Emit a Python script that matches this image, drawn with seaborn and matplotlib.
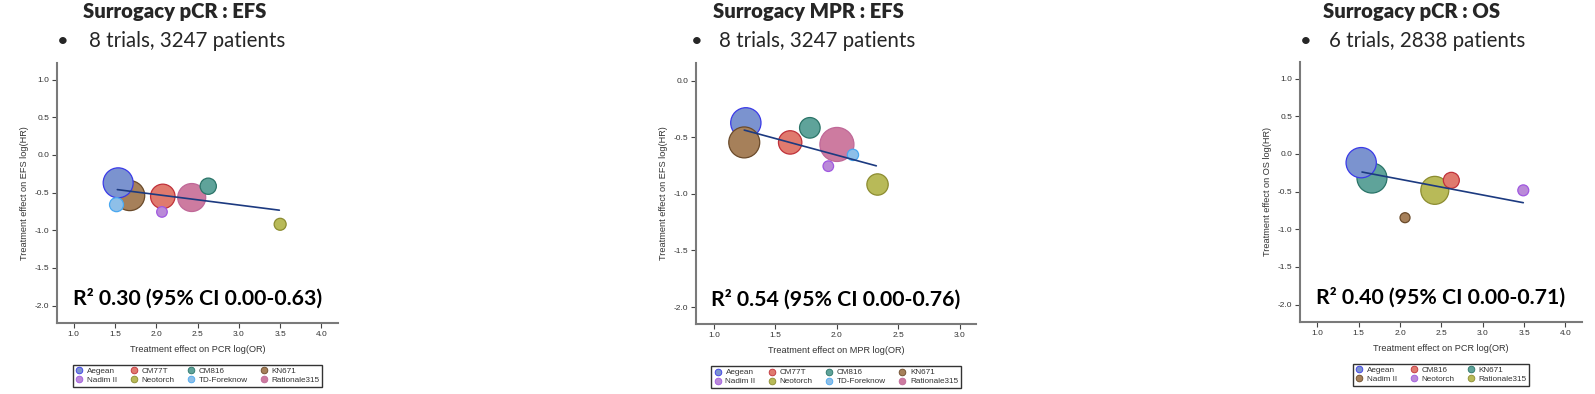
import pandas as pd
import matplotlib
matplotlib.use("Agg")
import matplotlib.pyplot as plt
from matplotlib.lines import Line2D
import seaborn as sns

# legend order of the trials (colour follows this order)
efs_trials = ["Aegean", "CM77T", "CM816", "KN671", "Nadim II", "Neotorch", "TD-Foreknow", "Rationale315"]
os_trials = ["Aegean", "CM816", "KN671", "Nadim II", "Neotorch", "Rationale315"]

# pCR : EFS  (rows in drawing order)
pcr_efs_trial = ["KN671", "Aegean", "TD-Foreknow", "CM77T", "Rationale315", "CM816", "Nadim II", "Neotorch"]
pcr_efs_x = [1.68, 1.54, 1.52, 2.08, 2.43, 2.63, 2.07, 3.50]
pcr_efs_y = [-0.54, -0.37, -0.66, -0.55, -0.565, -0.415, -0.756, -0.92]
pcr_efs_w = [225, 225, 49, 150, 196, 66, 28, 36]
pcr_efs_fit_x = [1.53, 3.49]
pcr_efs_fit_y = [-0.46, -0.733]

# MPR : EFS
mpr_efs_trial = ["Aegean", "KN671", "CM77T", "CM816", "Rationale315", "TD-Foreknow", "Nadim II", "Neotorch"]
mpr_efs_x = [1.26, 1.247, 1.62, 1.78, 2.00, 2.13, 1.93, 2.33]
mpr_efs_y = [-0.372, -0.545, -0.545, -0.416, -0.563, -0.655, -0.755, -0.917]
mpr_efs_w = [230, 240, 137, 106, 290, 32, 28, 114]
mpr_efs_fit_x = [1.247, 2.32]
mpr_efs_fit_y = [-0.436, -0.752]

# pCR : OS
pcr_os_trial = ["KN671", "Aegean", "Rationale315", "CM816", "Nadim II", "Neotorch"]
pcr_os_x = [1.66, 1.53, 2.42, 2.62, 2.06, 3.49]
pcr_os_y = [-0.32, -0.116, -0.483, -0.35, -0.846, -0.483]
pcr_os_w = [225, 230, 196, 64, 25, 30]
pcr_os_fit_x = [1.54, 3.49]
pcr_os_fit_y = [-0.24, -0.647]

fills = ["#7b93cf", "#e07a6e", "#5fa39a", "#a6805a", "#ba8ad8", "#b8ba58", "#8ebfe8", "#cd7ba0"]
edges = ["#3a3ae8", "#c0313a", "#2a7468", "#6a4a2a", "#a058e0", "#8c8c30", "#4aa8f0", "#c06898"]

sns.set_theme(style="white")
plt.rcParams["font.family"] = ["Liberation Sans", "DejaVu Sans"]
plt.rcParams["axes.unicode_minus"] = False

W, H = 1595, 394
fig = plt.figure(figsize=(W / 100, H / 100), dpi=100)

panels = [
    dict(trial=pcr_efs_trial, x=pcr_efs_x, y=pcr_efs_y, w=pcr_efs_w, fx=pcr_efs_fit_x, fy=pcr_efs_fit_y,
         order=efs_trials, box=(57, 338, 63, 323), xlim=(0.8, 4.2), ylim=(-2.23, 1.22),
         xticks=[1.0, 1.5, 2.0, 2.5, 3.0, 3.5, 4.0], yticks=[1.0, 0.5, 0.0, -0.5, -1.0, -1.5, -2.0],
         xlabel="Treatment effect on PCR log(OR)", ylabel="Treatment effect on EFS log(HR)",
         title="Surrogacy pCR : EFS", sub="8 trials, 3247 patients", tx=83, bx=62.5, sx=89,
         r2="R² 0.30 (95% CI 0.00-0.63)"),
    dict(trial=mpr_efs_trial, x=mpr_efs_x, y=mpr_efs_y, w=mpr_efs_w, fx=mpr_efs_fit_x, fy=mpr_efs_fit_y,
         order=efs_trials, box=(696, 976, 63, 324), xlim=(0.855, 3.13), ylim=(-2.15, 0.157),
         xticks=[1.0, 1.5, 2.0, 2.5, 3.0], yticks=[0.0, -0.5, -1.0, -1.5, -2.0],
         xlabel="Treatment effect on MPR log(OR)", ylabel="Treatment effect on EFS log(HR)",
         title="Surrogacy MPR : EFS", sub="8 trials, 3247 patients", tx=713, bx=697, sx=719,
         r2="R² 0.54 (95% CI 0.00-0.76)"),
    dict(trial=pcr_os_trial, x=pcr_os_x, y=pcr_os_y, w=pcr_os_w, fx=pcr_os_fit_x, fy=pcr_os_fit_y,
         order=os_trials, box=(1300, 1582, 62, 322), xlim=(0.79, 4.2), ylim=(-2.23, 1.22),
         xticks=[1.0, 1.5, 2.0, 2.5, 3.0, 3.5, 4.0], yticks=[1.0, 0.5, 0.0, -0.5, -1.0, -1.5, -2.0],
         xlabel="Treatment effect on PCR log(OR)", ylabel="Treatment effect on OS log(HR)",
         title="Surrogacy pCR : OS", sub="6 trials, 2838 patients", tx=1323, bx=1306, sx=1329,
         r2="R² 0.40 (95% CI 0.00-0.71)"),
]

for p in panels:
    l, r, t, b = p["box"]
    ax = fig.add_axes([l / W, 1 - b / H, (r - l) / W, (b - t) / H])
    df = pd.DataFrame({"trial": p["trial"], "x": p["x"], "y": p["y"], "weight": p["w"]})
    fill_map = {name: fills[i] for i, name in enumerate(p["order"])}
    edge_map = {name: edges[i] for i, name in enumerate(p["order"])}
    sns.scatterplot(data=df, x="x", y="y", hue="trial", palette=fill_map, size="weight",
                    sizes=(0, 2.07 * 300), size_norm=(0, 300), legend=False,
                    edgecolor=[edge_map[n] for n in df["trial"]], linewidth=0.9, ax=ax, zorder=3)
    sns.lineplot(x=p["fx"], y=p["fy"], color="#1c3a80", linewidth=1.2, ax=ax, zorder=5)

    ax.set_xlim(*p["xlim"])
    ax.set_ylim(*p["ylim"])
    ax.set_xticks(p["xticks"])
    ax.set_yticks(p["yticks"])
    ax.set_xticklabels([f"{v:.1f}" for v in p["xticks"]])
    ax.set_yticklabels([f"{v:.1f}" for v in p["yticks"]])
    sns.despine(ax=ax)
    for s in ["left", "bottom"]:
        ax.spines[s].set_color("#7a7a7a")
        ax.spines[s].set_linewidth(1.5)
    ax.tick_params(direction="out", length=3.5, width=0.8, color="#444444",
                   labelsize=6.0, labelcolor="#333333", pad=2, left=True, bottom=True)
    ax.set_xlabel(p["xlabel"], fontsize=6.6, color="#333333", labelpad=5)
    ax.set_ylabel(p["ylabel"], fontsize=6.6, color="#333333", labelpad=4)

    ax.text(0.5, 0.095, p["r2"], transform=ax.transAxes, ha="center", va="center",
            fontsize=15.3, fontweight="bold", family="Lato", color="black")

    handles = [Line2D([], [], marker="o", linestyle="", markersize=4.8,
                      markerfacecolor=fill_map[n], markeredgecolor=edge_map[n],
                      markeredgewidth=0.6, label=n) for n in p["order"]]
    ncol = 4 if len(handles) == 8 else 3
    # matplotlib fills columns first; reorder so rows read like the legend order
    cols = [handles[c::ncol] for c in range(ncol)]
    handles = [h for col in cols for h in col]
    leg = ax.legend(handles=handles, loc="upper center", bbox_to_anchor=(0.5, -0.162),
                    ncol=ncol, frameon=True, fancybox=False, fontsize=5.9,
                    handletextpad=0.45, columnspacing=1.5, borderpad=0.3,
                    labelspacing=0.15, handlelength=1.0, borderaxespad=0)
    leg.get_frame().set_edgecolor("black")
    leg.get_frame().set_linewidth(1.0)
    for txt in leg.get_texts():
        txt.set_color("#333333")

    fig.text(p["tx"] / W, 1 - 18 / H, p["title"], fontsize=14.6, fontweight="heavy",
             family="Lato", va="baseline", ha="left")
    fig.text(p["bx"] / W, 1 - 47 / H, "•", fontsize=14.5, family="Lato", va="baseline", ha="center")
    fig.text(p["sx"] / W, 1 - 47 / H, p["sub"], fontsize=14.8, family="Lato", va="baseline", ha="left")

fig.savefig("out.png", dpi=100)
